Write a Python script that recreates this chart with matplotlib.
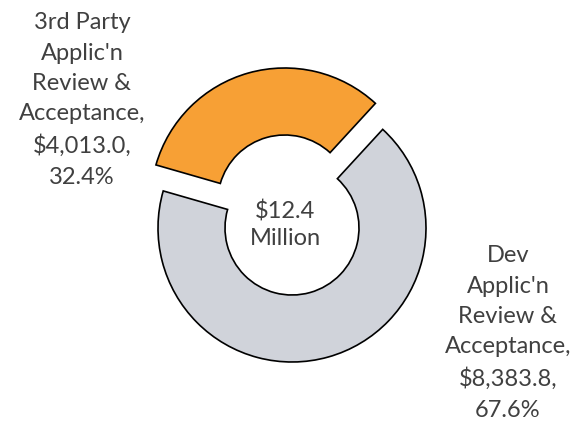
import matplotlib
matplotlib.use("Agg")
import matplotlib.pyplot as plt

# data
names = ["3rd Party\nApplic'n\nReview &\nAcceptance", "Dev\nApplic'n\nReview &\nAcceptance"]
values = [4013.0, 8383.8]
colors = ['#F7A035', '#D0D3DA']
center_text = "$12.4\nMillion"

plt.rcParams['font.family'] = ['Lato', 'DejaVu Sans']

H = 425
fig = plt.figure(figsize=(5.7, 4.25), dpi=100)
ax = fig.add_axes([0, 0, 1, 1])

# pie in pixel units (y measured upward), orange slice pulled out
ax.pie(values, colors=colors, explode=[27, 0], startangle=47.4, counterclock=True,
       center=(292, H - 228), radius=134, frame=True,
       wedgeprops=dict(width=67, edgecolor='black', linewidth=1.2))
ax.set_xlim(0, 570)
ax.set_ylim(0, H)
ax.set_aspect('equal')
ax.axis('off')

total = sum(values)
label_pos = [(82, H - 100), (508, H - 333)]
for name, v, (x, y) in zip(names, values, label_pos):
    txt = f"{name},\n${v:,.1f},\n{v / total * 100:.1f}%"
    ax.text(x, y, txt, ha='center', va='center', fontsize=17, color='#404040',
            linespacing=1.55)

ax.text(285, H - 225, center_text, ha='center', va='center', fontsize=17,
        color='#404040', linespacing=1.35)

fig.savefig("out.png", dpi=100)
